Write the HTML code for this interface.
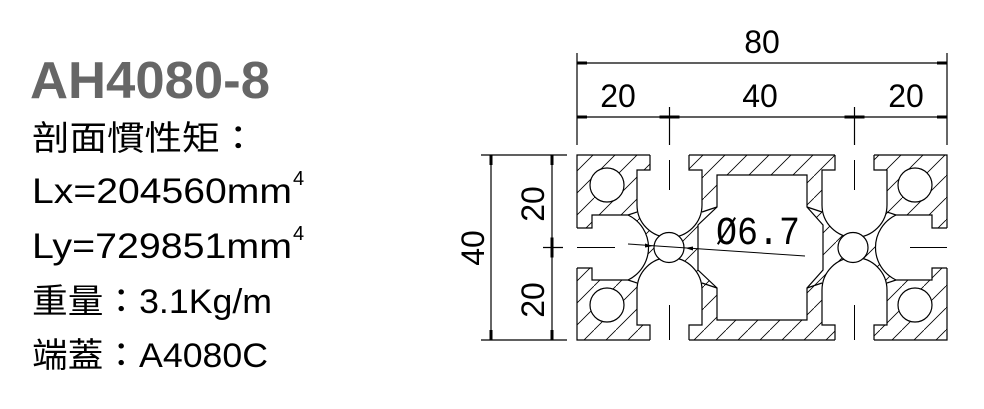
<!DOCTYPE html>
<html><head><meta charset="utf-8"><style>
html,body{margin:0;padding:0;background:#fff;}
svg{display:block;}
</style></head><body>
<svg width="984" height="409" viewBox="0 0 984 409" xmlns="http://www.w3.org/2000/svg">
<defs>
<pattern id="h" patternUnits="userSpaceOnUse" width="22" height="22">
<line x1="0" y1="22" x2="22" y2="0" stroke="#000" stroke-width="0.8"/>
</pattern>
<marker id="a" viewBox="0 0 10 4" refX="10" refY="2" markerWidth="10" markerHeight="4" orient="auto-start-reverse" markerUnits="userSpaceOnUse"><rect x="0" y="0.5" width="10" height="3" fill="#000"/></marker>
</defs>
<style>
.t{font-family:"Liberation Sans","Noto Sans CJK TC",sans-serif;fill:#000;}
.d{font-family:"Liberation Sans",sans-serif;font-size:32px;fill:#000;}
.f{fill:#fff;stroke:none;}
.s{fill:none;stroke:#000;stroke-width:1.2;}
</style>
<text x="30" y="98" font-family="Liberation Sans, sans-serif" font-weight="bold" font-size="52" fill="#666" textLength="240" lengthAdjust="spacingAndGlyphs">AH4080-8</text>
<text class="t" x="32" y="150" font-size="34" textLength="225" lengthAdjust="spacingAndGlyphs">剖面慣性矩：</text>
<text class="t" x="32" y="203" font-size="35" textLength="260" lengthAdjust="spacingAndGlyphs">Lx=204560mm</text>
<text class="t" x="293" y="185" font-size="20">4</text>
<text class="t" x="32" y="258" font-size="35" textLength="260" lengthAdjust="spacingAndGlyphs">Ly=729851mm</text>
<text class="t" x="293" y="240" font-size="20">4</text>
<text class="t" x="32" y="313" font-size="34" textLength="240" lengthAdjust="spacingAndGlyphs">重量：3.1Kg/m</text>
<text class="t" x="32" y="367" font-size="34" textLength="236" lengthAdjust="spacingAndGlyphs">端蓋：A4080C</text>

<g stroke="#000" stroke-width="1.2" fill="none">
<line x1="577" y1="53" x2="577" y2="145"/>
<line x1="947" y1="53" x2="947" y2="145"/>
<line x1="669.5" y1="107" x2="669.5" y2="145"/>
<line x1="854.5" y1="107" x2="854.5" y2="145"/>
<line x1="577" y1="63" x2="947" y2="63" marker-start="url(#a)" marker-end="url(#a)"/>
<line x1="577" y1="117" x2="669.5" y2="117" marker-start="url(#a)" marker-end="url(#a)"/>
<line x1="669.5" y1="117" x2="854.5" y2="117" marker-start="url(#a)" marker-end="url(#a)"/>
<line x1="854.5" y1="117" x2="947" y2="117" marker-start="url(#a)" marker-end="url(#a)"/>
<line x1="481" y1="155" x2="567" y2="155"/>
<line x1="481" y1="340" x2="567" y2="340"/>
<line x1="543" y1="247.5" x2="563" y2="247.5"/>
<line x1="491" y1="155" x2="491" y2="340" marker-start="url(#a)" marker-end="url(#a)"/>
<line x1="552" y1="155" x2="552" y2="247.5" marker-start="url(#a)" marker-end="url(#a)"/>
<line x1="552" y1="247.5" x2="552" y2="340" marker-start="url(#a)" marker-end="url(#a)"/>
</g>
<text class="d" x="762" y="53" text-anchor="middle">80</text>
<text class="d" x="618" y="107" text-anchor="middle">20</text>
<text class="d" x="760" y="107" text-anchor="middle">40</text>
<text class="d" x="906" y="107" text-anchor="middle">20</text>
<text class="d" transform="translate(484,248) rotate(-90)" text-anchor="middle">40</text>
<text class="d" transform="translate(544,204) rotate(-90)" text-anchor="middle">20</text>
<text class="d" transform="translate(544,300) rotate(-90)" text-anchor="middle">20</text>

<rect x="577" y="155" width="370" height="185" fill="url(#h)"/>
<path class="f" d="M650,154 L650,170 L637,170 L637,205 A32.5,32.5 0 0 0 702,205 L702,170 L689,170 L689,154 Z"/>
<path class="f" d="M835,154 L835,170 L822,170 L822,205 A32.5,32.5 0 0 0 887,205 L887,170 L874,170 L874,154 Z"/>
<path class="f" d="M650,341 L650,325 L637,325 L637,290 A32.5,32.5 0 0 1 702,290 L702,325 L689,325 L689,341 Z"/>
<path class="f" d="M835,341 L835,325 L822,325 L822,290 A32.5,32.5 0 0 1 887,290 L887,325 L874,325 L874,341 Z"/>
<path class="f" d="M576,228 L592,228 L592,215 L628,215 A36,36 0 0 1 628,280 L592,280 L592,268 L576,268 Z"/>
<path class="f" d="M948,228 L932,228 L932,215 L896,215 A36,36 0 0 0 896,280 L932,280 L932,268 L948,268 Z"/>
<g class="s">
<path d="M650,155 L650,170 L637,170 L637,205 A32.5,32.5 0 0 0 702,205 L702,170 L689,170 L689,155"/>
<path d="M835,155 L835,170 L822,170 L822,205 A32.5,32.5 0 0 0 887,205 L887,170 L874,170 L874,155"/>
<path d="M650,340 L650,325 L637,325 L637,290 A32.5,32.5 0 0 1 702,290 L702,325 L689,325 L689,340"/>
<path d="M835,340 L835,325 L822,325 L822,290 A32.5,32.5 0 0 1 887,290 L887,325 L874,325 L874,340"/>
<path d="M577,228 L592,228 L592,215 L628,215 A36,36 0 0 1 628,280 L592,280 L592,268 L577,268"/>
<path d="M947,228 L932,228 L932,215 L896,215 A36,36 0 0 0 896,280 L932,280 L932,268 L947,268"/>
<path d="M577,228 L577,155 L650,155 M689,155 L835,155 M874,155 L947,155 L947,228 M947,268 L947,340 L874,340 M835,340 L689,340 M650,340 L577,340 L577,268"/>
<path fill="#fff" d="M717,175 L807,175 L807,207 L823,225 L823,270 L807,288 L807,320 L717,320 L717,288 L698,270 L698,225 L717,207 Z"/>
<circle cx="607" cy="185" r="17" fill="#fff"/>
<circle cx="607" cy="305" r="17" fill="#fff"/>
<circle cx="915" cy="185" r="17" fill="#fff"/>
<circle cx="915" cy="305" r="17" fill="#fff"/>
<circle cx="669" cy="247.5" r="15" fill="#fff"/>
<circle cx="853" cy="247.5" r="15" fill="#fff"/>
<path d="M637,212 L628,215 M702,212 L717,207 M822,212 L807,207 M887,212 L896,215 M637,283 L628,280 M702,283 L717,288 M822,283 L807,288 M887,283 L896,280"/>
</g>
<g stroke="#000" stroke-width="1" fill="none">
<line x1="669.5" y1="160" x2="669.5" y2="190"/>
<line x1="854.5" y1="160" x2="854.5" y2="190"/>
<line x1="669.5" y1="305" x2="669.5" y2="340"/>
<line x1="854.5" y1="305" x2="854.5" y2="340"/>
<line x1="577" y1="247.5" x2="615" y2="247.5"/>
<line x1="910" y1="247.5" x2="947" y2="247.5"/>
<line x1="628" y1="244" x2="805" y2="256"/>
</g>
<polygon points="653,246 645,243.5 645,247.5" fill="#000"/>
<polygon points="685,248 693,246.5 693,250.5" fill="#000"/>
<text x="716" y="244" textLength="84" lengthAdjust="spacingAndGlyphs" style="font-family:'Liberation Mono',monospace;font-size:40px;fill:#000">Ø6.7</text>
</svg>
</body></html>
